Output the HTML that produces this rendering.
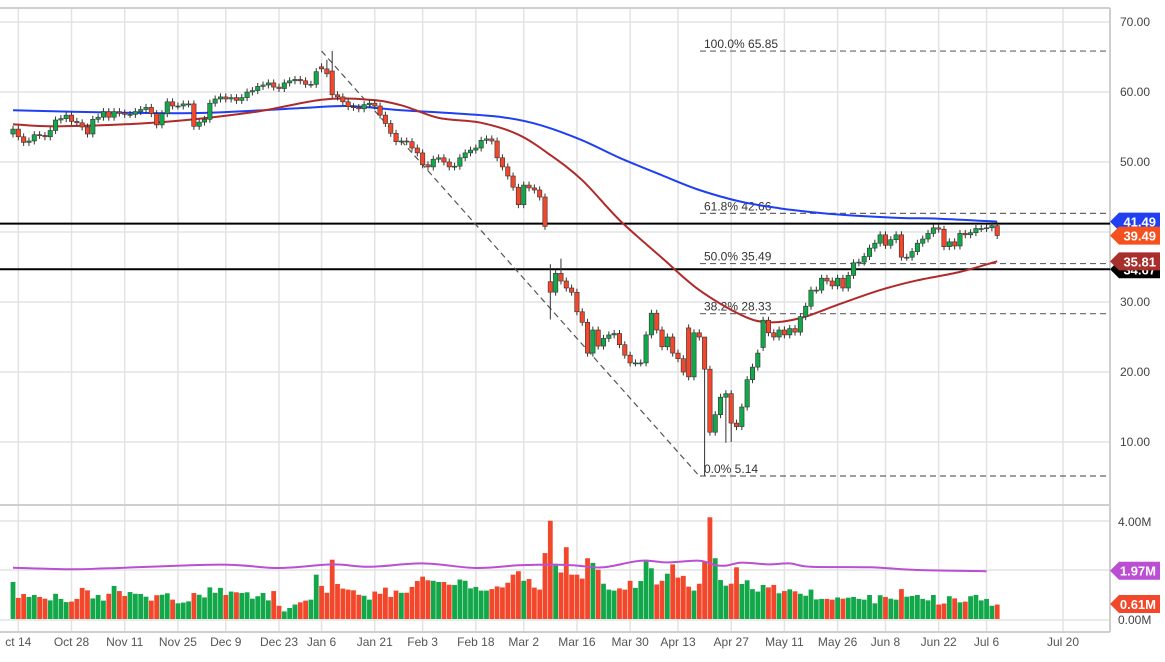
<!DOCTYPE html>
<html><head><meta charset="utf-8"><style>
html,body{margin:0;padding:0;background:#fff;}
svg{display:block;font-family:"Liberation Sans",sans-serif;}
</style></head><body>
<svg id="chart" width="1165" height="662" viewBox="0 0 1165 662" xmlns="http://www.w3.org/2000/svg">
<rect width="1165" height="662" fill="#fff"/>
<g id="grid"></g><g id="overlays"></g><g id="ma"></g><g id="candles"></g><g id="vol"></g><g id="axes"></g><g id="tags"></g>
</svg>
<script>
const closes = [54.7,53.6,52.8,53.0,53.9,53.8,53.6,54.5,56.0,56.2,
56.7,55.8,55.6,55.0,54.0,56.1,56.4,57.2,56.4,57.2,
57.0,56.8,56.8,57.2,57.5,57.8,56.9,55.3,56.9,58.6,
58.0,58.0,58.3,58.3,55.1,55.7,56.1,58.4,59.0,59.3,
59.0,59.2,58.8,59.2,60.0,60.2,60.8,61.0,61.3,60.7,
60.5,61.3,61.6,61.8,61.6,61.1,61.1,62.9,63.3,62.6,
59.6,59.3,58.6,57.9,57.8,57.6,58.2,58.4,58.0,56.7,55.5,
54.1,52.9,53.0,52.9,52.0,51.3,49.6,49.3,50.4,50.6,
50.0,49.3,49.4,50.6,51.3,51.7,52.0,53.1,53.3,53.0,
50.6,49.3,48.0,46.4,43.9,46.7,46.3,46.0,45.0,40.8,
31.4,34.1,33.0,32.0,31.4,28.6,27.1,22.7,26.0,23.7,
24.8,25.3,25.5,23.9,22.4,21.3,21.3,21.3,25.3,28.4,
26.0,23.6,25.0,22.7,21.9,20.0,19.3,25.6,25.0,20.4,
11.4,13.9,16.4,16.9,12.7,12.2,15.0,18.9,20.7,22.7,
27.4,25.6,25.0,26.0,25.3,26.2,25.7,27.9,29.4,31.7,
31.7,33.4,33.0,32.3,33.4,32.0,33.8,35.6,35.7,36.5,
37.7,38.4,39.6,38.1,38.9,39.6,36.4,36.4,37.2,38.4,
39.0,39.8,40.6,40.4,37.9,38.6,38.0,39.8,39.6,39.9,
40.5,40.5,40.6,40.9,39.5];
const firstOpen = 54.0;
const gapOpens = {58:63.6, 60:63.0, 101:32.9, 127:26.3, 141:23.5, 184:40.6, 185:40.9};
const highs = {60:65.85, 101:35.4, 103:36.2, 130:24.0, 59:64.6};
const lows = {130:5.14, 134:9.9, 135:10.0, 101:27.5};
const volumes = [1.51,0.86,1.02,0.90,0.98,0.90,0.83,0.76,1.03,0.82,
0.69,0.71,0.82,1.27,1.17,0.84,0.98,0.75,1.03,1.35,
1.14,0.94,1.10,1.03,1.02,0.91,0.75,0.97,0.99,1.05,
0.79,0.64,0.67,0.72,1.06,0.99,0.88,1.29,1.07,1.27,
0.98,1.12,1.09,1.06,1.09,0.83,0.93,1.06,0.76,1.14,
0.54,0.31,0.45,0.59,0.68,0.75,0.79,1.81,1.35,1.07,
2.42,1.43,1.24,1.20,1.17,0.99,0.95,0.79,1.12,1.03,
1.28,0.90,1.16,1.07,1.07,1.31,1.55,1.73,1.58,1.56,
1.51,1.51,1.40,1.39,1.61,1.56,1.25,1.31,1.16,1.16,
1.22,1.33,1.29,1.48,1.81,1.95,1.56,1.63,1.28,1.20,
2.69,4.01,2.18,1.90,2.93,1.81,1.81,
1.65,2.48,2.29,2.01,1.44,1.20,1.16,1.25,1.20,1.56,
1.27,1.55,2.42,2.07,1.41,1.56,1.85,2.23,1.69,1.76,
1.32,1.16,1.44,2.35,4.15,2.48,1.59,1.36,1.44,2.11,
1.43,1.58,1.22,1.12,1.39,1.29,1.39,1.05,1.14,1.21,
1.13,1.03,0.95,1.20,0.80,0.82,0.82,0.79,0.88,0.83,
0.87,0.90,0.82,0.79,0.98,0.64,0.97,0.90,0.83,0.79,
1.22,0.91,0.94,0.98,0.82,0.76,0.98,0.59,0.63,0.93,
0.84,0.68,0.71,0.93,0.98,0.76,0.82,0.54,0.59];
const ma200Idx = [0,16,35,54,63,73,82,92,99,107,114,122,129,137,144,152,159,167,174,185];
const ma200Val = [57.4,57.1,57.0,57.7,58.0,57.4,57.0,56.4,55.3,53.1,50.6,48.1,46.0,44.3,43.4,42.7,42.3,42.0,41.9,41.49];
const ma50Idx = [0,9,28,45,58,67,73,80,88,95,101,107,114,122,129,137,142,148,155,163,170,178,185];
const ma50Val = [55.4,55.1,55.7,57.1,58.9,58.9,58.1,56.3,55.6,53.9,51.0,47.4,41.7,36.3,31.7,28.1,27.1,27.7,29.6,31.7,33.1,34.3,35.81];
const volAvgIdx = [0,11,18,39,50,60,67,77,87,95,102,106,111,118,123,129,132,134,137,142,146,150,161,170,183];
const volAvgVal = [2.09,2.03,2.07,2.22,2.08,2.23,2.13,2.27,2.08,2.19,2.22,2.18,2.11,2.38,2.31,2.38,2.2,2.18,2.30,2.23,2.27,2.13,2.11,2.0,1.95];
const dateLabels = ["ct 14","Oct 28","Nov 11","Nov 25","Dec 9","Dec 23","Jan 6","Jan 21","Feb 3","Feb 18","Mar 2","Mar 16","Mar 30","Apr 13","Apr 27","May 11","May 26","Jun 8","Jun 22","Jul 6"];
const dateIdx = [1,11,21,31,40,50,58,68,77,87,96,106,116,125,135,145,155,164,174,183];
const priceTicks = [70,60,50,30,20,10];
const gridPrices = [70,60,50,40,30,20,10];
const fibLevels = [65.85,42.66,35.49,28.33,5.14];
const fibLabels = ["100.0% 65.85","61.8% 42.66","50.0% 35.49","38.2% 28.33","0.0% 5.14"];
const levelLines = [41.2,34.67];
const priceTags = [34.67,41.49,39.49,35.81];
const priceTagText = ["34.67","41.49","39.49","35.81"];
const priceTagColor = ["#000","#2040f2","#f4511e","#a8302c"];

const NS="http://www.w3.org/2000/svg";
function mk(t,a,p){const e=document.createElementNS(NS,t);for(const k in a)e.setAttribute(k,a[k]);p.appendChild(e);return e;}
const xI = i => 13 + i*5.32;
const yP = p => 22 + (70-p)*7.0;
const yV = v => 619 - v*24.5;
const G = id => document.getElementById(id);

const grid=G('grid');
gridPrices.forEach(p=>{const l=mk('line',{x1:0,x2:1110,y1:yP(p),y2:yP(p),stroke:'#e3e3e3','stroke-width':1.5},grid);

});
[0,2,4].forEach(v=>{const l=mk('line',{x1:0,x2:1110,y1:yV(v)+(v==0?1:0),y2:yV(v)+(v==0?1:0),stroke:'#e3e3e3','stroke-width':1.5},grid);

});
dateIdx.forEach(i=>{const l=mk('line',{x1:xI(i),x2:xI(i),y1:8,y2:632,stroke:'#e3e3e3','stroke-width':1.5},grid);

});
{const l=mk('line',{x1:1063,x2:1063,y1:8,y2:632,stroke:'#e3e3e3','stroke-width':1.5},grid);

}
[[0,8,1110,8],[0,505,1110,505],[0,632,1110,632],[1110,8,1110,632]].forEach(b=>{const l=mk('line',{x1:b[0],y1:b[1],x2:b[2],y2:b[3],stroke:'#cfcfcf','stroke-width':2},grid);

});

const ov=G('overlays');
levelLines.forEach(p=>{const l=mk('line',{x1:0,x2:1110,y1:yP(p),y2:yP(p),stroke:'#000','stroke-width':2},ov);

});
fibLevels.forEach((p,k)=>{const l=mk('line',{x1:700,x2:1108,y1:yP(p),y2:yP(p),stroke:'#666','stroke-width':1.2,'stroke-dasharray':'6,4'},ov);


const t=mk('text',{x:704,y:yP(p)-3,'font-size':12,fill:'#333'},ov);t.textContent=fibLabels[k];

});
{const l=mk('line',{x1:xI(58),y1:yP(65.85),x2:xI(129),y2:yP(5.14),stroke:'#555','stroke-width':1.2,'stroke-dasharray':'6,4'},ov);

}

// smooth path (Catmull-Rom)
function pathFrom(idx,val,fy){
  const P=idx.map((i,k)=>[xI(i),fy(val[k])]);
  let d='M'+P[0][0].toFixed(1)+','+P[0][1].toFixed(1);
  for(let k=0;k<P.length-1;k++){
    const p0=P[k-1]||P[k],p1=P[k],p2=P[k+1],p3=P[k+2]||P[k+1];
    const c1=[p1[0]+(p2[0]-p0[0])/6,p1[1]+(p2[1]-p0[1])/6];
    const c2=[p2[0]-(p3[0]-p1[0])/6,p2[1]-(p3[1]-p1[1])/6];
    d+=' C'+c1[0].toFixed(1)+','+c1[1].toFixed(1)+' '+c2[0].toFixed(1)+','+c2[1].toFixed(1)+' '+p2[0].toFixed(1)+','+p2[1].toFixed(1);
  }
  return d;
}
const maG=G('ma');
{const p=mk('path',{d:pathFrom(ma200Idx,ma200Val,yP),fill:'none',stroke:'#1f3ff2','stroke-width':2,'stroke-linejoin':'round'},maG);

}
{const p=mk('path',{d:pathFrom(ma50Idx,ma50Val,yP),fill:'none',stroke:'#b02a2a','stroke-width':2,'stroke-linejoin':'round'},maG);

}

const cg=G('candles'), vg=G('vol');
const GREEN='#12a84a', RED='#f2472a';
closes.forEach((c,i)=>{
  const o = (i in gapOpens)?gapOpens[i]:(i==0?firstOpen:closes[i-1]);
  const up = c>=o;
  const hi = (i in highs)?highs[i]:Math.max(o,c)+0.5;
  const lo = (i in lows)?lows[i]:Math.min(o,c)-0.5;
  const x=xI(i);
  const w=mk('line',{x1:x,x2:x,y1:yP(hi),y2:yP(lo),stroke:'#333','stroke-width':1},cg);
  
  
  const top=yP(Math.max(o,c)), h=Math.max(1,yP(Math.min(o,c))-top);
  const b=mk('rect',{x:x-2.2,y:top,width:4.4,height:h,fill:up?GREEN:RED,stroke:'#333','stroke-width':0.6},cg);
  
  
  const v=volumes[i];
  const vb=mk('rect',{x:x-2.4,y:yV(v),width:4.8,height:619-yV(v),fill:up?GREEN:RED},vg);
  
  
});
{const p=mk('path',{d:pathFrom(volAvgIdx,volAvgVal,yV),fill:'none',stroke:'#bb4fd4','stroke-width':2},vg);

}

const ax=G('axes');
priceTicks.forEach(p=>{const t=mk('text',{x:1120,y:yP(p)+4,'font-size':12,fill:'#444'},ax);t.textContent=p.toFixed(2);

});
[[4,'4.00M'],[0,'0.00M']].forEach(a=>{const t=mk('text',{x:1118,y:yV(a[0])+5,'font-size':12,fill:'#444'},ax);t.textContent=a[1];

});
dateLabels.forEach((s,k)=>{const t=mk('text',{x:xI(dateIdx[k]),y:646,'font-size':12,fill:'#555','text-anchor':'middle'},ax);t.textContent=s;

});
{const t=mk('text',{x:1063,y:646,'font-size':12,fill:'#555','text-anchor':'middle'},ax);t.textContent='Jul 20';

}

const tg=G('tags');
function tag(y,txt,col){
  const g=mk('g',{},tg);
  mk('path',{d:`M1110,${y} L1119,${y-9} L1160,${y-9} L1160,${y+9} L1119,${y+9} Z`,fill:col},g);
  const t=mk('text',{x:1156,y:y+5,'font-size':13,'font-weight':'bold',fill:'#fff','text-anchor':'end'},g);t.textContent=txt;
  return g;
}
priceTags.forEach((p,k)=>{const g=tag(yP(p),priceTagText[k],priceTagColor[k]);

});
{const g=tag(yV(1.97),'1.97M','#bb4fd4');

}
{const g=tag(yV(0.61),'0.61M','#f2472a');

}
</script>
</body></html>
